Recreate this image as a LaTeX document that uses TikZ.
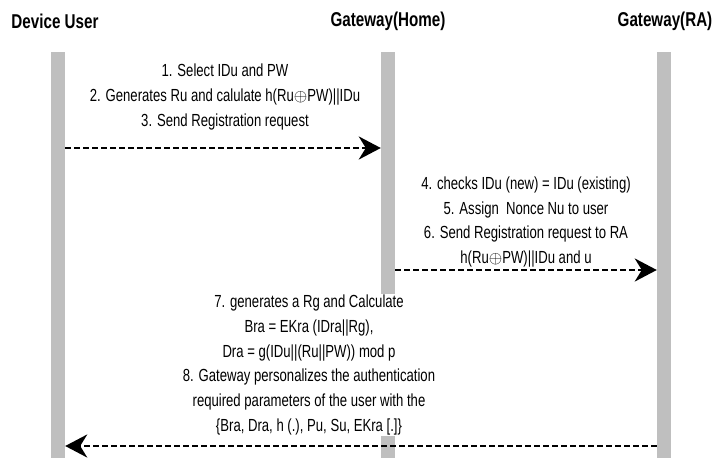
\documentclass[tikz,border=0pt]{standalone}
\usepackage{fontspec}
\setmainfont{Liberation Sans}[FakeStretch=0.75]
\newfontfamily\titlefont{Liberation Sans}[FakeStretch=0.76]
\usetikzlibrary{arrows.meta}
\begin{document}
\begin{tikzpicture}[x=1pt,y=-1pt]
    \def\xu{58}
    \def\xh{388}
    \def\xr{664}

    \useasboundingbox (0,0) rectangle (715,458);

    \tikzstyle{actor}=[font=\titlefont\fontsize{20}{22}\selectfont\bfseries,inner sep=0pt]
    \tikzstyle{bar}=[fill=black!25,minimum width=14pt,minimum height=406pt,inner sep=0pt]
    \tikzstyle{note}=[fill=white,align=center,inner sep=1pt,font=\fontsize{17.5}{24.8}\selectfont]

    \node[actor] (user) at (55,21) {Device User};
    \node[actor] (home) at (\xh,21) {Gateway(Home)};
    \node[actor] (ra)   at (665,21) {Gateway(RA)};

    \node[bar] (userbar) at (\xu,255) {};
    \node[bar] (homebar) at (\xh,255) {};
    \node[bar] (rabar)   at (\xr,255) {};

    \coordinate (m1) at (0,148);
    \coordinate (m2) at (0,270);
    \coordinate (m3) at (0,446);

    \node[note] (reg)   at (225,97)  {1. Select IDu and PW\\
        2. Generates Ru and calulate h(Ru$\oplus$PW)||IDu\\
        3. Send Registration request};
    \node[note] (check) at (526,222) {4. checks IDu (new) = IDu (existing)\\
        5. Assign\ \ Nonce Nu to user\\
        6. Send Registration request to RA\\
        h(Ru$\oplus$PW)||IDu and u};
    \node[note] (param) at (309,365) {7. generates a Rg and Calculate\\
        Bra = EKra (IDra||Rg),\\
        Dra = g(IDu||(Ru||PW)) mod p\\
        8. Gateway personalizes the authentication\\
        required parameters of the user with the\\
        \{Bra, Dra, h (.), Pu, Su, EKra [.]\}};

    \tikzstyle{msg} = [draw=black, line width=2.6pt, dash pattern=on 6pt off 3pt,
        -{Stealth[length=22pt,width=23pt,inset=7pt]}]

          \draw [msg] (userbar.east |- m1) -- (homebar.west |- m1);
          \draw [msg] (homebar.east |- m2) -- (rabar.west |- m2);
          \draw [msg] (rabar.west |- m3) -- (userbar.east |- m3);
\end{tikzpicture}
\end{document}
